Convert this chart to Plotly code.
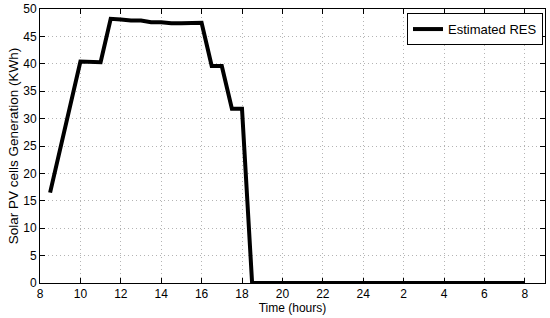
import plotly.graph_objects as go

hours = [8.5, 10, 11, 11.5, 12, 12.5, 13, 13.5, 14, 14.5, 15, 15.5, 16, 16.5, 17, 17.5, 18, 18.5, 20, 22, 24, 26, 28, 30, 32]
generation = [16.5, 40.4, 40.3, 48.2, 48.1, 47.9, 47.9, 47.6, 47.6, 47.4, 47.4, 47.5, 47.5, 39.6, 39.6, 31.8, 31.8, 0, 0, 0, 0, 0, 0, 0, 0]
tick_vals = [8, 10, 12, 14, 16, 18, 20, 22, 24, 26, 28, 30, 32]
tick_text = ["8", "10", "12", "14", "16", "18", "20", "22", "24", "2", "4", "6", "8"]
y_ticks = [0, 5, 10, 15, 20, 25, 30, 35, 40, 45, 50]

FONT = "Liberation Sans, Arial, Helvetica, sans-serif"

fig = go.Figure()
fig.add_trace(go.Scatter(x=hours, y=generation, mode="lines", name="Estimated RES",
                         line=dict(color="black", width=4)))

axis_common = dict(showline=True, linecolor="black", linewidth=1, mirror="ticks",
                   ticks="inside", ticklen=5, tickcolor="black",
                   showgrid=True, gridcolor="#b4b4b4", griddash="1px,3px", gridwidth=1,
                   zeroline=False, automargin=False,
                   tickfont=dict(family=FONT, size=12, color="black"))

fig.update_xaxes(range=[8, 33], tickvals=tick_vals, ticktext=tick_text,
                 title=dict(text="Time (hours)", font=dict(family=FONT, size=12, color="black"), standoff=0),
                 **axis_common)
fig.update_yaxes(range=[0, 50], tickvals=y_ticks,
                 title=dict(text="Solar PV cells Generation (KWh)", font=dict(family=FONT, size=13.5, color="black"), standoff=1),
                 **axis_common)

fig.update_layout(width=550, height=318, margin=dict(l=40, r=5, t=9, b=35),
                  plot_bgcolor="white", paper_bgcolor="white",
                  font=dict(family=FONT, size=12, color="black"),
                  showlegend=True,
                  legend=dict(x=0.996, y=0.985, xanchor="right", yanchor="top",
                              bordercolor="black", borderwidth=1, bgcolor="white",
                              font=dict(family=FONT, size=13, color="black")))

fig.write_html("out.html", config={"displayModeBar": False},
               post_script="document.body.style.margin='0';")
